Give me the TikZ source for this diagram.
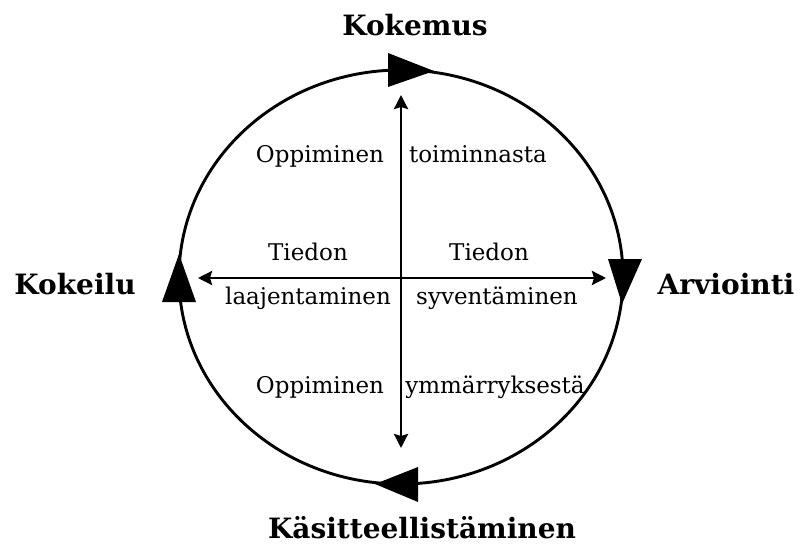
\documentclass[tikz,border=0pt]{standalone}
\usepackage{fontspec}
\setmainfont{DejaVu Serif}
\usetikzlibrary{arrows.meta}
\begin{document}
\begin{tikzpicture}[x=1pt,y=-1pt,
  lbl/.style={font=\fontsize{23}{27}\selectfont, inner sep=0pt, anchor=base},
  title/.style={font=\fontsize{28}{32}\selectfont\bfseries, inner sep=0pt, anchor=base},
  cyc/.style={line width=2.9pt},
  head/.style={fill=black, draw=none},
  axis/.style={line width=2.7pt, {Stealth[length=14pt,width=14pt,inset=2pt]}-{Stealth[length=14pt,width=14pt,inset=2pt]}}]
\useasboundingbox (0,0) rectangle (803,548);
% cycle
\draw[cyc] (401,277) ellipse [x radius=222, y radius=207];
\fill[head] (388,53) -- (388,87) -- (434,71) -- cycle;
\fill[head] (608,259) -- (642,259) -- (622,304) -- cycle;
\fill[head] (179,254) -- (196,302) -- (162,302) -- cycle;
\fill[head] (375,484) -- (418,467) -- (418,502) -- cycle;
% axes
\coordinate (top) at (401,95);
\coordinate (bot) at (401,448);
\coordinate (lft) at (198,278);
\coordinate (rgt) at (606,278);
\draw[axis] (top) -- (bot);
\draw[axis] (lft) -- (rgt);
% titles
\node[title] (kokemus) at (415,36) {Kokemus};
\node[title] (arviointi) at (726,294) {Arviointi};
\node[title] (kokeilu) at (75,294) {Kokeilu};
\node[title] (kasit) at (422,538) {Käsitteellistäminen};
% inner labels
\node[lbl] (opp1) at (320,163) {Oppiminen};
\node[lbl] (toim) at (478,163) {toiminnasta};
\node[lbl] (tied1) at (308,260) {Tiedon};
\node[lbl] (tied2) at (489,260) {Tiedon};
\node[lbl] (laaj) at (308,304) {laajentaminen};
\node[lbl] (syv) at (497,304) {syventäminen};
\node[lbl] (opp2) at (320,393) {Oppiminen};
\node[lbl] (ymm) at (495,393) {ymmärryksestä};
\end{tikzpicture}
\end{document}
